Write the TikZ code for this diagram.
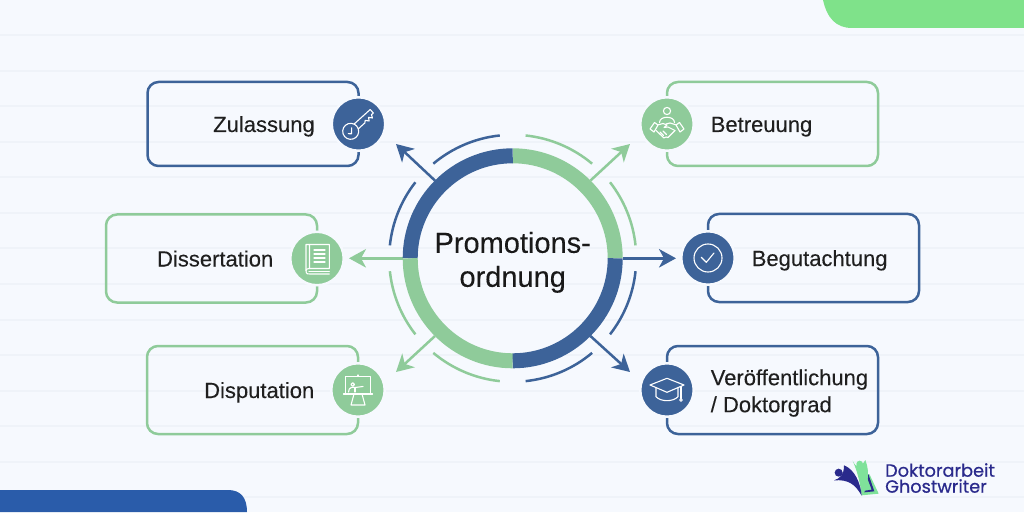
\documentclass[tikz,border=0pt]{standalone}
\usepackage{fontspec}
\setmainfont[FakeBold=0.15]{Liberation Sans}
\newfontfamily\logofont[FakeBold=0.6]{Poppins}
\usetikzlibrary{arrows.meta,positioning}
\definecolor{pagebg}{HTML}{F6F9FE}
\definecolor{gridline}{HTML}{EFF3F9}
\definecolor{docblue}{HTML}{3D6399}
\definecolor{docgreen}{HTML}{8FCB9A}
\definecolor{cornergreen}{HTML}{7FE28A}
\definecolor{cornerblue}{HTML}{2A5CAA}
\definecolor{logoblue}{HTML}{2A2A8C}
\definecolor{logogreen}{HTML}{7FE29A}
\tikzset{
	x=1pt, y=1pt, % one unit is one pixel of the reference
	card/.style={draw, rounded corners=11pt, line width=2.5pt, minimum width=211pt, minimum height=88pt, inner sep=0pt, outer sep=0pt}, % the frame of an entry
	blueicon/.style={circle, fill=docblue, draw=pagebg, line width=2.5pt, minimum size=53.5pt, inner sep=0pt, outer sep=0pt},
	greenicon/.style={circle, fill=docgreen, draw=pagebg, line width=2.5pt, minimum size=53.5pt, inner sep=0pt, outer sep=0pt},
	cardtext/.style={font=\fontsize{22}{27}\selectfont, text=black!88, inner sep=0pt, outer sep=0pt, text height=16pt, text depth=0pt},
	cardtexttwo/.style={font=\fontsize{22}{27}\selectfont, text=black!88, inner sep=0pt, outer sep=0pt, align=left},
	node distance=17pt,
	ringpart/.style={line width=15pt},
	outerarc/.style={line width=2.5pt},
	pointer/.style={line width=2.5pt, -{Stealth[length=17pt,width=18.5pt,inset=5pt]}},
	glyph/.style={draw=white, line width=1.1pt, line join=round, line cap=round, fill=none},
	pics/keyglyph/.style={code={
		\begin{scope}[shift={(-7.7,-7.3)},rotate=42,glyph]
			\draw (7.2,-3.2) arc[start angle=-24,end angle=336,radius=8] -- cycle;
			\draw (7.2,3.2) -- (29,3.2) -- (29,-1.5) -- (26.5,-1.5) -- (25,-4.6) -- (22.5,-1.5) -- (20.5,-4.6) -- (18,-1.5) -- (16,-3.2) -- (7.2,-3.2);
			\draw (-3.5,0) -- (-1.2,-2.3) -- (3,2);
		\end{scope}
	}},
	pics/bookglyph/.style={code={
		\begin{scope}[glyph]
			\draw (-7.5,-10) -- (-7.5,14) -- (-11,14) -- (-11,-12) .. controls (-11,-16) and (-9,-15.5) .. (-7,-15.5) -- (12.3,-15.5);
			\draw (-7.5,14) -- (12.3,14) -- (12.3,-10) -- (-8,-10) .. controls (-10,-10) and (-11,-11) .. (-11,-12);
			\draw (-8,-12.8) -- (12.3,-12.8);
			\draw (-3,8.5) -- (8,8.5);
			\draw (-3,4.5) -- (8,4.5);
			\draw (-3,0.5) -- (8,0.5);
			\draw (-3,-3.5) -- (8,-3.5);
		\end{scope}
	}},
	pics/boardglyph/.style={code={
		\begin{scope}[glyph]
			\draw (-12.7,-3.5) rectangle (12.7,13.5);
			\draw (0,13.5) -- (0,15);
			\draw (-14.5,-4) -- (14.5,-4);
			\draw (-4,-4) -- (-7,-15) -- (7,-15) -- (4,-4);
			\draw (-5.3,5.5) circle[radius=1.8];
			\draw (-9.5,-2) .. controls (-9.5,3) and (-5,3.2) .. (-3,2.5) -- (5,3.5);
			\draw (-3,2.5) -- (-3,-2);
		\end{scope}
	}},
	pics/shakeglyph/.style={code={
		\begin{scope}[glyph]
			\draw (0,13) circle[radius=3.6];
			\draw (-7.5,1.5) .. controls (-7.5,8.5) and (7.5,8.5) .. (7.5,1.5);
			\draw (-17,-5) -- (-12.5,1.5) -- (-9,-1) -- (-13,-8) -- cycle;
			\draw (17,-5) -- (12.5,1.5) -- (9,-1) -- (13,-8) -- cycle;
			\draw (-9.5,-1) -- (-4,0.5) -- (0,-1) -- (-3,-3.5) -- (1,-3) -- (8,-6.5);
			\draw (9.5,-1) -- (3,1) -- (-1,0);
			\draw (-11,-6.5) -- (-3,-14) -- (-1,-13) -- (1,-13.5) -- (8,-6.5);
			\draw (-7,-8) -- (-3.5,-11.5);
			\draw (-4,-7) -- (-0.5,-10.5);
		\end{scope}
	}},
	pics/checkglyph/.style={code={
		\begin{scope}[glyph]
			\draw (0,0) circle[radius=14];
			\draw (-6.7,0.7) -- (-1.7,-4.3) -- (6,5);
		\end{scope}
	}},
	pics/capglyph/.style={code={
		\begin{scope}[glyph]
			\draw (-17,5) -- (0,11.7) -- (17,5) -- (0,-2.3) -- cycle;
			\draw (-11,2.5) -- (-11,-6.7) .. controls (-6,-12) and (6,-12) .. (11,-6.7) -- (11,2.5);
			\draw (14,3.5) -- (14,-8.5);
			\draw (14,-10) circle[radius=1.3];
		\end{scope}
	}},
}
\begin{document}
\begin{tikzpicture}
	\useasboundingbox (0,0) rectangle (1024,512);
	% background
	\fill[pagebg] (0,0) rectangle (1024,512);
	\foreach \gy in {15,50,86,121,157,192,228,264,299,335,370,406,441,477}
		\draw[gridline, line width=1.6pt] (0,\gy) -- (1024,\gy);
	\fill[cornergreen] (1024,512) -- (823,512) .. controls (827,494) and (836,484) .. (852,484) -- (1024,484) -- cycle;
	\fill[cornerblue] (0,0) -- (247,0) .. controls (247,14) and (241,22) .. (228,22) -- (0,22) -- cycle;

	% the middle
	\node[circle, minimum size=220pt, inner sep=0pt, outer sep=0pt] (PROMO) at (512.7,253.7) {};
	\node[align=center, text=black!90, font=\fontsize{29}{34}\selectfont, inner sep=0pt, yshift=-4pt] (PROMO_TEXT) at (PROMO.center) {Promotions-\\ordnung};

	% the six entries
	\node[card, draw=docblue, minimum height=84pt] (ZULASSUNG) at (253,388) {};
	\node[card, draw=docgreen] (DISSERTATION) at (211.5,253.5) {};
	\node[card, draw=docgreen] (DISPUTATION) at (252.5,122) {};
	\node[card, draw=docgreen, minimum height=84pt] (BETREUUNG) at (772.5,388) {};
	\node[card, draw=docblue] (BEGUTACHTUNG) at (813.5,254) {};
	\node[card, draw=docblue] (VEROEFF) at (772.5,122) {};

	\node[blueicon] (ZUL_ICON) at (ZULASSUNG.east) {};
	\node[greenicon] (DISS_ICON) at (DISSERTATION.east) {};
	\node[greenicon] (DISP_ICON) at (DISPUTATION.east) {};
	\node[greenicon] (BET_ICON) at (BETREUUNG.west) {};
	\node[blueicon] (BEG_ICON) at (BEGUTACHTUNG.west) {};
	\node[blueicon] (VER_ICON) at (VEROEFF.west) {};

	\pic at (ZUL_ICON) {keyglyph};
	\pic at (DISS_ICON) {bookglyph};
	\pic at (DISP_ICON) {boardglyph};
	\pic at (BET_ICON) {shakeglyph};
	\pic at (BEG_ICON) {checkglyph};
	\pic at (VER_ICON) {capglyph};

	\node[cardtext, left=of ZUL_ICON] (ZUL_TEXT) {Zulassung};
	\node[cardtext, left=of DISS_ICON] (DISS_TEXT) {Dissertation};
	\node[cardtext, left=of DISP_ICON] (DISP_TEXT) {Disputation};
	\node[cardtext, right=of BET_ICON] (BET_TEXT) {Betreuung};
	\node[cardtext, right=of BEG_ICON] (BEG_TEXT) {Begutachtung};
	\node[cardtexttwo, right=of VER_ICON, yshift=-3pt] (VER_TEXT) {Veröffentlichung\\/ Doktorgrad};

	% arrow ends
	\coordinate (ZUL_TIP) at (396,368);
	\coordinate (BET_TIP) at (630,368);
	\coordinate (DISP_TIP) at (396,140);
	\coordinate (VER_TIP) at (630,140);
	\coordinate (DISS_TIP) at (349,253.7);
	\coordinate (BEG_TIP) at (676,253.7);

	\draw[pointer, docblue] (PROMO.135) -- (ZUL_TIP);
	\draw[pointer, docgreen] (PROMO.45) -- (BET_TIP);
	\draw[pointer, docgreen] (PROMO.west) -- (DISS_TIP);
	\draw[pointer, docblue] (PROMO.east) -- (BEG_TIP);
	\draw[pointer, docgreen] (PROMO.225) -- (DISP_TIP);
	\draw[pointer, docblue] (PROMO.315) -- (VER_TIP);

	% ring
	\draw[ringpart, docgreen] (PROMO.center) ++(0:102.5) arc[start angle=0, end angle=90, radius=102.5];
	\draw[ringpart, docblue] (PROMO.center) ++(90:102.5) arc[start angle=90, end angle=180, radius=102.5];
	\draw[ringpart, docgreen] (PROMO.center) ++(180:102.5) arc[start angle=180, end angle=270, radius=102.5];
	\draw[ringpart, docblue] (PROMO.center) ++(270:102.5) arc[start angle=270, end angle=360, radius=102.5];

	% thin arcs round the ring
	\draw[outerarc, docgreen] (PROMO.center) ++(6:123.5) arc[start angle=6, end angle=38, radius=123.5];
	\draw[outerarc, docgreen] (PROMO.center) ++(50:123.5) arc[start angle=50, end angle=84, radius=123.5];
	\draw[outerarc, docblue] (PROMO.center) ++(96:123.5) arc[start angle=96, end angle=130, radius=123.5];
	\draw[outerarc, docblue] (PROMO.center) ++(142:123.5) arc[start angle=142, end angle=174, radius=123.5];
	\draw[outerarc, docgreen] (PROMO.center) ++(186:123.5) arc[start angle=186, end angle=218, radius=123.5];
	\draw[outerarc, docgreen] (PROMO.center) ++(230:123.5) arc[start angle=230, end angle=264, radius=123.5];
	\draw[outerarc, docblue] (PROMO.center) ++(276:123.5) arc[start angle=276, end angle=310, radius=123.5];
	\draw[outerarc, docblue] (PROMO.center) ++(322:123.5) arc[start angle=322, end angle=354, radius=123.5];

	% logo
	\begin{scope}[shift={(820,62)}, x=0.3333pt, y=-0.3333pt]
		\fill[logogreen] (148,72) -- (176,131) -- (125,136) -- cycle;
		\fill[logoblue] (145,72) -- (163,124) -- (133,127) -- (135,122) -- (155,119) -- (141,82) -- cycle;
		\fill[logogreen] (98,32) .. controls (108,55) and (122,55) .. (136,30) .. controls (152,70) and (142,110) .. (125,137) .. controls (120,95) and (112,65) .. cycle;
		\fill[logogreen] (119,42) circle[radius=10];
		\fill[logoblue] (72,46) .. controls (104,58) and (122,100) .. (125,137) .. controls (105,102) and (85,88) .. (42,91) .. controls (60,85) and (72,75) .. cycle;
		\fill[logoblue] (56,68) circle[radius=12];
	\end{scope}
	\node[anchor=base west, inner sep=0pt, text=logoblue, font=\logofont\fontsize{17.7}{18}\selectfont] (LOGO_TOP) at (885,35.3) {Doktorarbeit};
	\node[anchor=base west, inner sep=0pt, text=logoblue, font=\logofont\fontsize{17.7}{18}\selectfont] (LOGO_BOTTOM) at (885,19.3) {Ghostwriter};
\end{tikzpicture}
\end{document}
